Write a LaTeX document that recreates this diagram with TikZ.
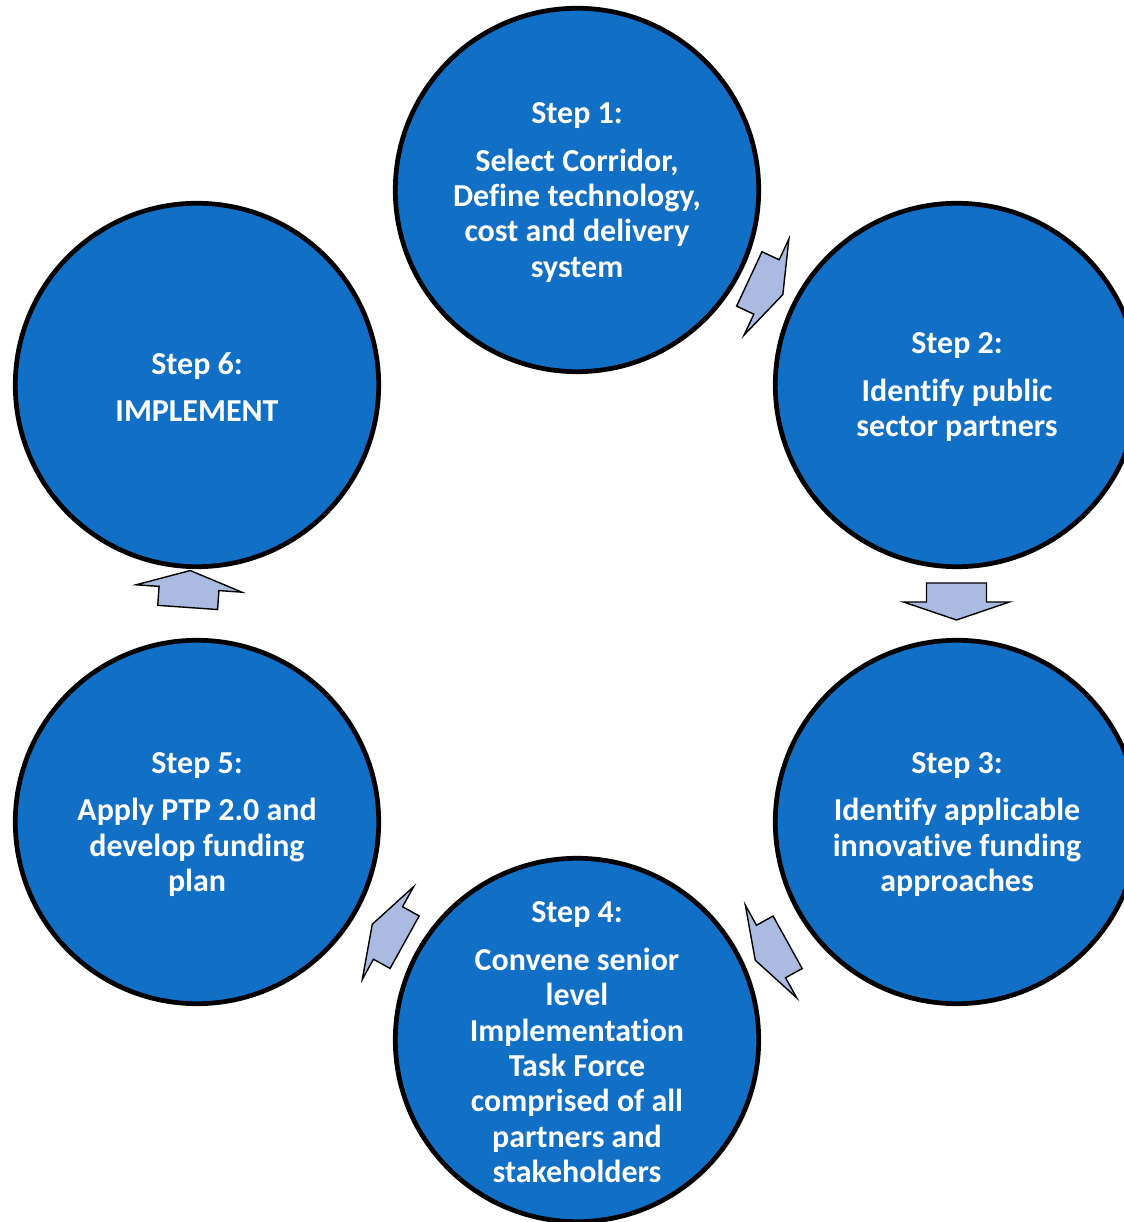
\documentclass[tikz,border=0pt]{standalone}
\usepackage{fontspec}
\setmainfont{Carlito}[Ligatures=NoCommon]
\definecolor{stepblue}{RGB}{17,111,197}
\definecolor{arrowblue}{RGB}{170,186,224}
\tikzset{
	stepcircle/.style={circle,draw=black,line width=2.7pt,fill=stepblue,minimum size=7.27cm,inner sep=0pt},
	steptext/.style={text=white,align=center,inner sep=0pt,yshift=-1.3pt,font=\bfseries\fontsize{18.2}{20.1}\selectfont},
	blockarrow/.pic={
		\draw[fill=arrowblue,line width=0.8pt,line join=miter] (-19,30)--(0,30)--(0,53)--(18,0)--(0,-53)--(0,-30)--(-19,-30)--cycle;
	}
}

\begin{document}
\begin{tikzpicture}[x=0.02cm,y=0.02cm]
	\useasboundingbox (0,0) rectangle (1124,1222);
	\clip (0,0) rectangle (1124,1222);
	
	%circles
	\node[stepcircle] (s1) at (577,1032) {};
	\node[stepcircle] (s2) at (957,837) {};
	\node[stepcircle] (s3) at (957,400) {};
	\node[stepcircle] (s4) at (577,182) {};
	\node[stepcircle] (s5) at (197,400) {};
	\node[stepcircle] (s6) at (197,837) {};
	
	%texts
	\node[steptext] (t1) at (s1) {Step 1:\\[7pt]Select Corridor,\\Define technology,\\cost and delivery\\system};
	\node[steptext] (t2) at (s2) {Step 2:\\[7pt]Identify public\\sector partners};
	\node[steptext] (t3) at (s3) {Step 3:\\[7pt]Identify applicable\\innovative funding\\approaches};
	\node[steptext] (t4) at (s4) {Step 4:\\[7pt]Convene senior\\level\\Implementation\\Task Force\\comprised of all\\partners and\\stakeholders};
	\node[steptext] (t5) at (s5) {Step 5:\\[7pt]Apply PTP 2.0 and\\develop funding\\plan};
	\node[steptext] (t6) at (s6) {Step 6:\\[7pt]IMPLEMENT};
	
	%arrows
	\pic[rotate=-25] at (766.5,935) {blockarrow};
	\pic[rotate=-90] at (956.5,620) {blockarrow};
	\pic[rotate=209] at (771,270.5) {blockarrow};
	\pic[rotate=151] at (388,289) {blockarrow};
	\pic[rotate=86] at (189,633.5) {blockarrow};
\end{tikzpicture}
\end{document}
